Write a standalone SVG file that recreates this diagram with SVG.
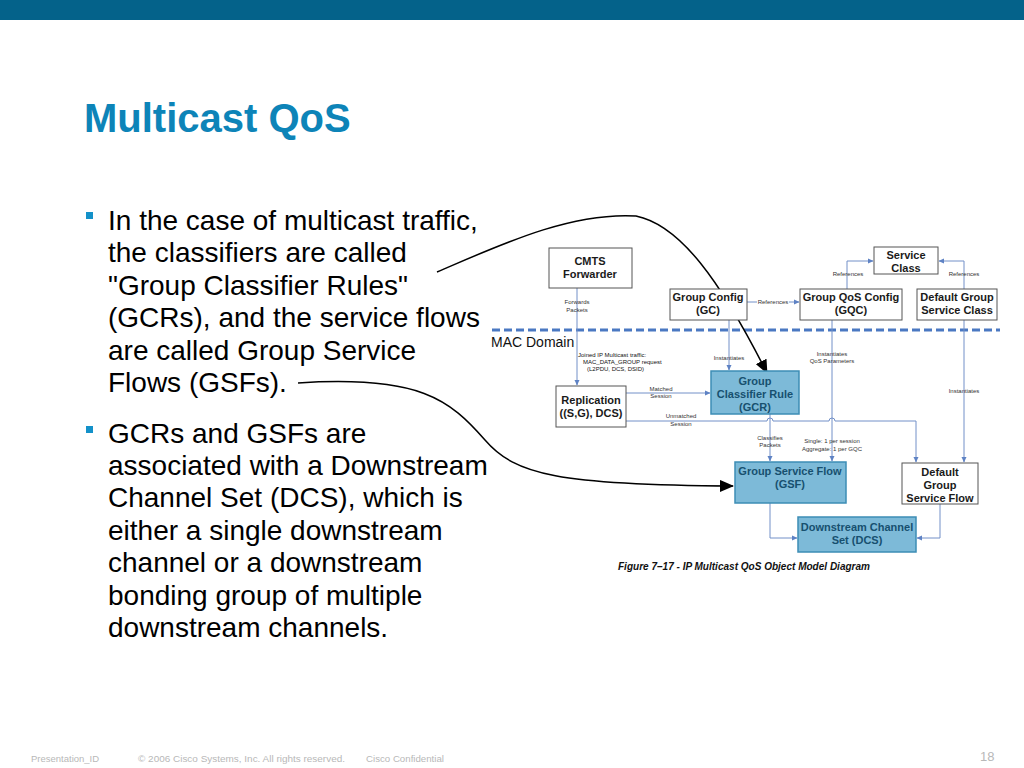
<svg xmlns="http://www.w3.org/2000/svg" width="1024" height="768" viewBox="0 0 1024 768">
<defs>
<style>
.body{font-family:"Liberation Sans",Arial,sans-serif;font-size:28px;fill:#000}
.box{fill:#fff;stroke:#555;stroke-width:1}
.bbox{fill:#7dbad8;stroke:#3d8db5;stroke-width:1.5}
.bl{font-family:"Liberation Sans",Arial,sans-serif;font-size:11px;font-weight:bold;fill:#1a1a1a;text-anchor:middle}
.bb{font-family:"Liberation Sans",Arial,sans-serif;font-size:11px;font-weight:bold;fill:#17506f;text-anchor:middle}
.sm{font-family:"Liberation Sans",Arial,sans-serif;font-size:6px;fill:#333;text-anchor:middle}
.sml{font-family:"Liberation Sans",Arial,sans-serif;font-size:6px;fill:#111}
.con{fill:none;stroke:#7290c8;stroke-width:1}
.foot{font-family:"Liberation Sans",Arial,sans-serif;font-size:9.5px;fill:#b8b8b8}
</style>
<marker id="ab" markerWidth="6" markerHeight="6" refX="5" refY="3" orient="auto" markerUnits="userSpaceOnUse"><path d="M0,0.5 L5.5,3 L0,5.5 z" fill="#5e82c4"/></marker>
<marker id="ak" markerWidth="14" markerHeight="12" refX="13" refY="6" orient="auto" markerUnits="userSpaceOnUse"><path d="M0,0 L14,6 L0,12 z" fill="#000"/></marker>
</defs>
<rect x="0" y="0" width="1024" height="768" fill="#fff"/>
<rect x="0" y="0" width="1024" height="20" fill="#04628a"/>
<text x="84" y="132" font-family="Liberation Sans,Arial,sans-serif" font-size="40" font-weight="bold" fill="#0d84b8">Multicast QoS</text>

<g id="bullets">
<rect x="86" y="212" width="7" height="7" fill="#1391c9"/>
<text class="body" x="108" y="230">In the case of multicast traffic,</text>
<text class="body" x="108" y="262">the classifiers are called</text>
<text class="body" x="108" y="295">"Group Classifier Rules"</text>
<text class="body" x="108" y="327">(GCRs), and the service flows</text>
<text class="body" x="108" y="360">are called Group Service</text>
<text class="body" x="108" y="392">Flows (GSFs).</text>
<rect x="86" y="426" width="7" height="7" fill="#1391c9"/>
<text class="body" x="108" y="443">GCRs and GSFs are</text>
<text class="body" x="108" y="475">associated with a Downstream</text>
<text class="body" x="108" y="507">Channel Set (DCS), which is</text>
<text class="body" x="108" y="540">either a single downstream</text>
<text class="body" x="108" y="572">channel or a downstream</text>
<text class="body" x="108" y="605">bonding group of multiple</text>
<text class="body" x="108" y="637">downstream channels.</text>
</g>

<g id="connectors">
<line x1="492" y1="330" x2="1000" y2="330" stroke="#4a78c2" stroke-width="3" stroke-dasharray="8,4"/>
<path class="con" d="M577,288 V385" marker-end="url(#ab)"/>
<path class="con" d="M747,302 H799" marker-end="url(#ab)"/>
<path class="con" d="M847,289 V261 H873" marker-end="url(#ab)"/>
<path class="con" d="M964,289 V261 H939" marker-end="url(#ab)"/>
<path class="con" d="M729,320 V370" marker-end="url(#ab)"/>
<path class="con" d="M832,320 V461" marker-end="url(#ab)"/>
<path class="con" d="M964,320 V462" marker-end="url(#ab)"/>
<path class="con" d="M626,393 H710" marker-end="url(#ab)"/>
<path class="con" d="M626,421 H767 A3,3 0 0 1 773,421 H829 A3,3 0 0 1 835,421 H916 V462" marker-end="url(#ab)"/>
<path class="con" d="M770,414 V461" marker-end="url(#ab)"/>
<path class="con" d="M770,503 V538 H797" marker-end="url(#ab)"/>
<path class="con" d="M940,504 V538 H917" marker-end="url(#ab)"/>
<text class="sm" x="577" y="304">Forwards</text>
<text class="sm" x="577" y="312">Packets</text>
<text class="sml" x="578" y="357">Joined IP Multicast traffic:</text>
<text class="sml" x="583" y="364">MAC_DATA_GROUP request</text>
<text class="sml" x="587" y="371">(L2PDU, DCS, DSID)</text>
<rect x="757" y="298" width="32" height="8" fill="#fff"/>
<text class="sm" x="773" y="304">References</text>
<text class="sm" x="848" y="276">References</text>
<text class="sm" x="964" y="276">References</text>
<text class="sm" x="729" y="360">Instantiates</text>
<text class="sm" x="832" y="356">Instantiates</text>
<text class="sm" x="832" y="363">QoS Parameters</text>
<text class="sm" x="964" y="393">Instantiates</text>
<text class="sm" x="661" y="391">Matched</text>
<text class="sm" x="661" y="398">Session</text>
<text class="sm" x="681" y="418">Unmatched</text>
<text class="sm" x="681" y="426">Session</text>
<text class="sm" x="770" y="440">Classifies</text>
<text class="sm" x="770" y="447">Packets</text>
<text class="sm" x="832" y="443">Single: 1 per session</text>
<text class="sm" x="832" y="451">Aggregate: 1 per GQC</text>
<path d="M437,272 C500,245 570,212 636,216 C680,225 720,280 767,373" fill="none" stroke="#000" stroke-width="1.5" marker-end="url(#ak)"/>
<path d="M298,383 C420,375 450,400 485,440 C515,475 560,485 733,486" fill="none" stroke="#000" stroke-width="1.5" marker-end="url(#ak)"/>
</g>

<text x="491" y="347" font-family="Liberation Sans,Arial,sans-serif" font-size="14" fill="#111">MAC Domain</text>

<g id="cmts">
<rect class="box" x="549" y="248" width="83" height="40"/>
<text class="bl" x="590" y="265">CMTS</text>
<text class="bl" x="590" y="278">Forwarder</text>
</g>
<g id="gc">
<rect class="box" x="670" y="289" width="77" height="31"/>
<text class="bl" x="708" y="301">Group Config</text>
<text class="bl" x="708" y="314">(GC)</text>
</g>
<g id="gqc">
<rect class="box" x="800" y="289" width="102" height="31"/>
<text class="bl" x="851" y="301">Group QoS Config</text>
<text class="bl" x="851" y="314">(GQC)</text>
</g>
<g id="sc">
<rect class="box" x="874" y="247" width="64" height="27"/>
<text class="bl" x="906" y="259">Service</text>
<text class="bl" x="906" y="272">Class</text>
</g>
<g id="dgsc">
<rect class="box" x="917" y="289" width="80" height="31"/>
<text class="bl" x="957" y="301">Default Group</text>
<text class="bl" x="957" y="314">Service Class</text>
</g>
<g id="rep">
<rect class="box" x="556" y="386" width="70" height="41"/>
<text class="bl" x="591" y="404">Replication</text>
<text class="bl" x="591" y="417">((S,G), DCS)</text>
</g>
<g id="gcr">
<rect class="bbox" x="711" y="371" width="88" height="43"/>
<text class="bb" x="755" y="385">Group</text>
<text class="bb" x="755" y="398">Classifier Rule</text>
<text class="bb" x="755" y="411">(GCR)</text>
</g>
<g id="gsf">
<rect class="bbox" x="735" y="462" width="111" height="41"/>
<text class="bb" x="790" y="475">Group Service Flow</text>
<text class="bb" x="790" y="488">(GSF)</text>
</g>
<g id="dgsf">
<rect class="box" x="902" y="463" width="76" height="41"/>
<text class="bl" x="940" y="476">Default</text>
<text class="bl" x="940" y="489">Group</text>
<text class="bl" x="940" y="502">Service Flow</text>
</g>
<g id="dcs">
<rect class="bbox" x="798" y="517" width="118" height="35"/>
<text class="bb" x="857" y="531">Downstream Channel</text>
<text class="bb" x="857" y="544">Set (DCS)</text>
</g>
<text x="618" y="570" font-family="Liberation Sans,Arial,sans-serif" font-size="10" font-weight="bold" font-style="italic" fill="#111" textLength="252" lengthAdjust="spacingAndGlyphs">Figure 7–17 - IP Multicast QoS Object Model Diagram</text>

<g id="footer">
<text class="foot" x="31" y="762">Presentation_ID</text>
<text class="foot" x="138" y="762" textLength="207" lengthAdjust="spacingAndGlyphs">© 2006 Cisco Systems, Inc. All rights reserved.</text>
<text class="foot" x="366" y="762" textLength="78" lengthAdjust="spacingAndGlyphs">Cisco Confidential</text>
<text x="980" y="761" font-family="Liberation Sans,Arial,sans-serif" font-size="13" fill="#b8b8b8">18</text>
</g>
</svg>
